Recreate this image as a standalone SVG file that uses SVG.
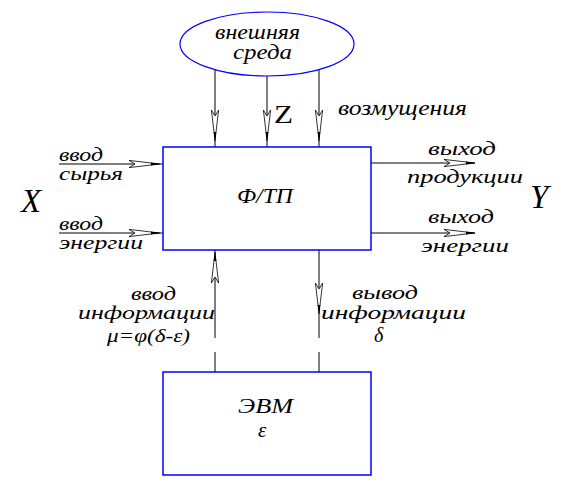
<svg xmlns="http://www.w3.org/2000/svg" xmlns:xlink="http://www.w3.org/1999/xlink" width="577" height="484" viewBox="0 0 577 484">
<style>
.t{font-family:"Liberation Serif","DejaVu Serif",serif;font-style:italic;fill:#000}
.big{font-family:"Liberation Serif","DejaVu Serif",serif;fill:#000}
.ln{stroke:#000;stroke-width:1;fill:none}
.nd{fill:#fff;stroke:#0000ff;stroke-width:1.5}
</style>
<defs>
<g id="ah">
<path d="M-32,-3.6 L-9,-0.9 L-9,0.9 L-32,3.6 L-26,0 Z" fill="#fff" stroke="#000" stroke-width="0.8"/>
<path d="M-10,-1.4 L-1,-0.5 L-1,0.5 L-10,1.4 Z" fill="#000"/>
</g>
</defs>
<rect width="577" height="484" fill="#fff"/>
<g id="connectors">
<line class="ln" x1="215" y1="60" x2="215" y2="147"/>
<line class="ln" x1="267" y1="60" x2="267" y2="147"/>
<line class="ln" x1="319" y1="60" x2="319" y2="147"/>
<use xlink:href="#ah" transform="translate(215,142) rotate(90)"/>
<use xlink:href="#ah" transform="translate(267,142) rotate(90)"/>
<use xlink:href="#ah" transform="translate(319,142) rotate(90)"/>
<line class="ln" x1="59" y1="164" x2="163" y2="164"/>
<line class="ln" x1="59" y1="233" x2="163" y2="233"/>
<use xlink:href="#ah" transform="translate(161,164)"/>
<use xlink:href="#ah" transform="translate(161,233)"/>
<line class="ln" x1="371" y1="163" x2="475" y2="163"/>
<line class="ln" x1="371" y1="233" x2="475" y2="233"/>
<use xlink:href="#ah" transform="translate(476,163)"/>
<use xlink:href="#ah" transform="translate(476,233)"/>
<line class="ln" x1="215" y1="250" x2="215" y2="338"/>
<line class="ln" x1="215" y1="352" x2="215" y2="372"/>
<line class="ln" x1="319" y1="250" x2="319" y2="338"/>
<line class="ln" x1="319" y1="352" x2="319" y2="372"/>
<use xlink:href="#ah" transform="translate(215,251) rotate(-90)"/>
<use xlink:href="#ah" transform="translate(319,315) rotate(90)"/>
</g>
<g id="env">
<ellipse cx="267" cy="44" rx="87" ry="32" fill="#fff" stroke="#0000ff" stroke-width="1.2"/>
<text class="t" x="215" y="39" font-size="20" textLength="85" lengthAdjust="spacingAndGlyphs">внешняя</text>
<text class="t" x="233" y="59" font-size="20" textLength="59" lengthAdjust="spacingAndGlyphs">среда</text>
</g>
<g id="process">
<rect class="nd" x="163" y="147" width="208" height="103"/>
<text class="t" x="237" y="203" font-size="20" textLength="56" lengthAdjust="spacingAndGlyphs">Ф/ТП</text>
</g>
<g id="computer">
<rect class="nd" x="163" y="372" width="208" height="103"/>
<text class="t" x="238" y="413" font-size="22" textLength="55" lengthAdjust="spacingAndGlyphs">ЭВМ</text>
<text class="t" x="258" y="437" font-size="21">ε</text>
</g>
<g id="labels">
<text class="big" x="274" y="123" font-size="26" textLength="19" lengthAdjust="spacingAndGlyphs">Z</text>
<text class="t" x="338" y="115" font-size="21" textLength="129" lengthAdjust="spacingAndGlyphs">возмущения</text>
<text class="t" x="59" y="161" font-size="18" textLength="44" lengthAdjust="spacingAndGlyphs">ввод</text>
<text class="t" x="59" y="180" font-size="18" textLength="64" lengthAdjust="spacingAndGlyphs">сырья</text>
<text class="t" x="59" y="230" font-size="18" textLength="44" lengthAdjust="spacingAndGlyphs">ввод</text>
<text class="t" x="59" y="249" font-size="18" textLength="84" lengthAdjust="spacingAndGlyphs">энергии</text>
<text class="t" x="21" y="212" font-size="33">X</text>
<text class="t" x="428" y="155" font-size="18" textLength="68" lengthAdjust="spacingAndGlyphs">выход</text>
<text class="t" x="407" y="183" font-size="18" textLength="116" lengthAdjust="spacingAndGlyphs">продукции</text>
<text class="t" x="530" y="208" font-size="33">Y</text>
<text class="t" x="428" y="223" font-size="18" textLength="66" lengthAdjust="spacingAndGlyphs">выход</text>
<text class="t" x="421" y="252" font-size="18" textLength="88" lengthAdjust="spacingAndGlyphs">энергии</text>
<text class="t" x="131" y="300" font-size="18" textLength="45" lengthAdjust="spacingAndGlyphs">ввод</text>
<text class="t" x="78" y="319" font-size="18" textLength="137" lengthAdjust="spacingAndGlyphs">информации</text>
<text class="t" x="107" y="342" font-size="18" textLength="83" lengthAdjust="spacingAndGlyphs">μ=φ(δ-ε)</text>
<text class="t" x="374" y="342" font-size="20">δ</text>
<text class="t" x="352" y="299" font-size="18" textLength="66" lengthAdjust="spacingAndGlyphs">вывод</text>
<text class="t" x="321" y="319" font-size="18" textLength="145" lengthAdjust="spacingAndGlyphs">информации</text>
</g>
</svg>
